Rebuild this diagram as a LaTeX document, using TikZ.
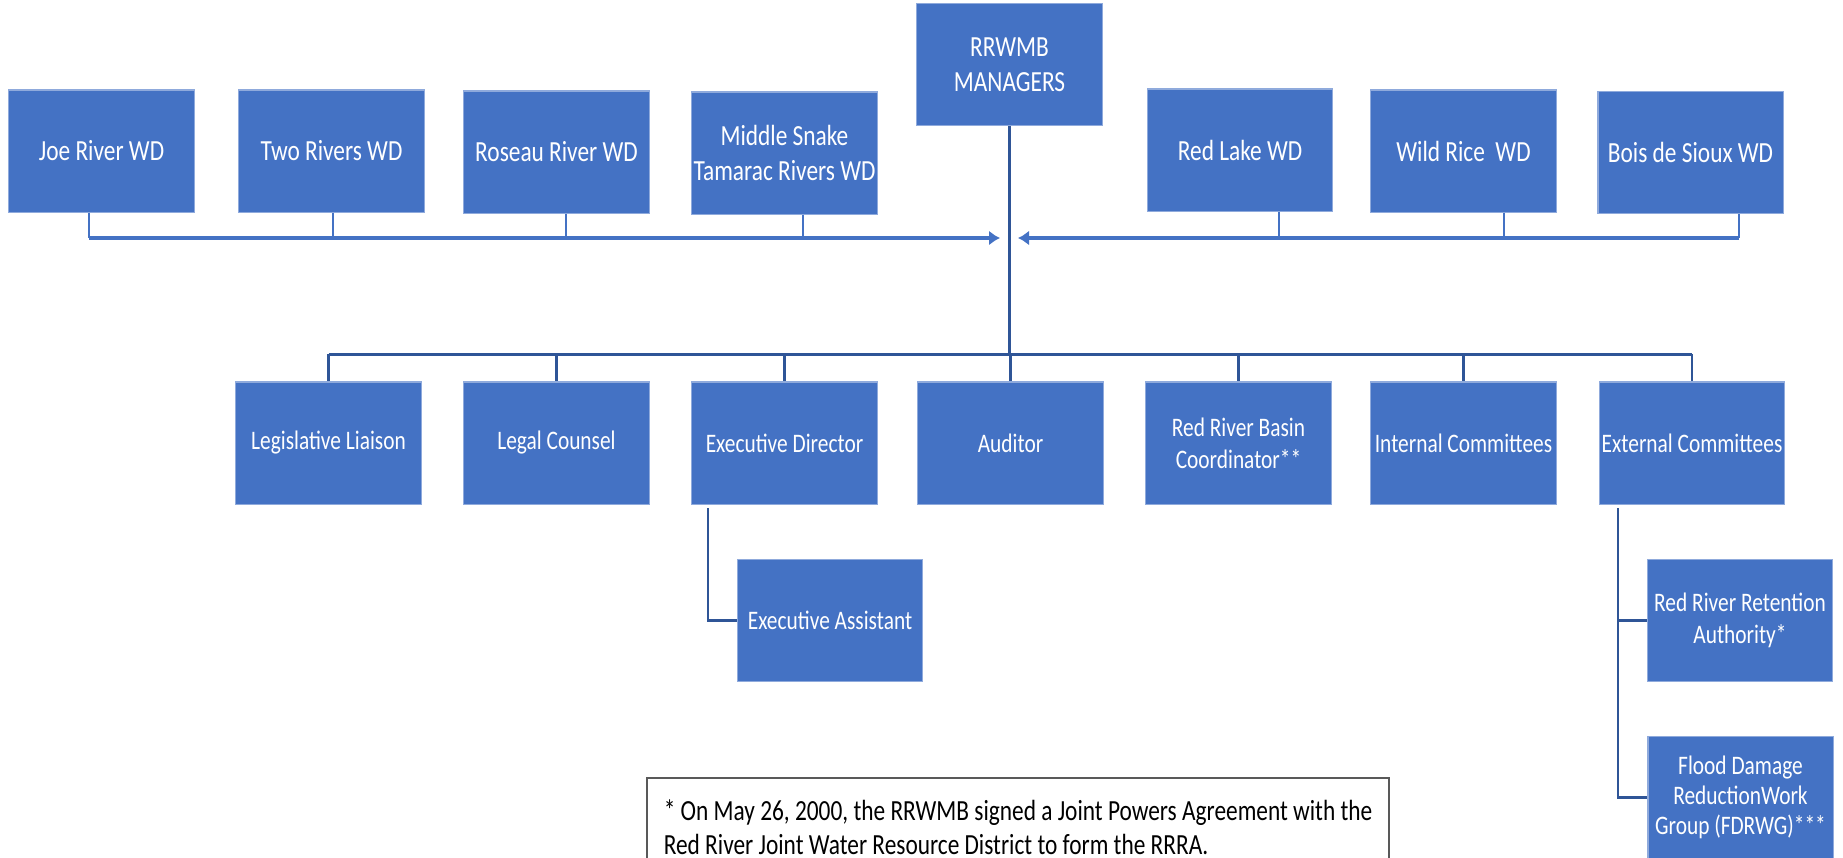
\documentclass[tikz,border=0pt]{standalone}
\usepackage{fontspec}
\setmainfont{Carlito}[FakeStretch=0.8]
\usepackage{tikz}
\usetikzlibrary{arrows.meta}
\definecolor{wdblue}{HTML}{4472C4}
\definecolor{wdedge}{HTML}{8FAADC}
\definecolor{linkblue}{HTML}{2F5597}
\definecolor{notegray}{HTML}{595959}
\tikzset{
>={Latex[length=0.11cm,width=0.15cm]}, % filled heads on the two feeder lines
unit/.style={draw=wdedge, line width=0.3pt, fill=wdblue, text=white, minimum width=1.85cm, minimum height=1.22cm, inner sep=0pt, align=center},
topunit/.style={unit, font=\fontsize{8.3pt}{10pt}\selectfont}, % districts and managers
lowunit/.style={unit, font=\fontsize{7.6pt}{9.1pt}\selectfont}, % staff and committees
feed/.style={draw=wdblue, line width=0.012cm},
bus/.style={draw=wdblue, line width=0.035cm},
trunk/.style={draw=linkblue, line width=0.03cm},
branch/.style={draw=linkblue, line width=0.025cm},
note/.style={draw=notegray, line width=0.02cm, minimum width=7.42cm, minimum height=0.98cm, inner sep=0pt, align=left, font=\fontsize{8.3pt}{9.7pt}\selectfont},
}

\begin{document}
\begin{tikzpicture}[x=0.01cm, y=-0.01cm]
  \clip (0,0) rectangle (1843,857);
  % watershed districts
  \node[topunit] (joe) at (101.5,151) {Joe River WD};
  \node[topunit] (two) at (331.5,151) {Two Rivers WD};
  \node[topunit] (roseau) at (556.5,152) {Roseau River WD};
  \node[topunit] (snake) at (784.5,153) {Middle Snake\\Tamarac Rivers WD};
  \node[topunit] (mgr) at (1009.5,64.5) {RRWMB\\MANAGERS};
  \node[topunit] (redlake) at (1240,150) {Red Lake WD};
  \node[topunit] (wildrice) at (1463.5,151) {Wild Rice\ \ WD};
  \node[topunit] (bois) at (1690.5,152.5) {Bois de Sioux WD};
  % staff and committees
  \node[lowunit] (leg) at (328.5,443) {Legislative Liaison};
  \node[lowunit] (legal) at (556.5,443) {Legal Counsel};
  \node[lowunit] (exec) at (784.5,443) {Executive Director};
  \node[lowunit] (aud) at (1010.5,443) {Auditor};
  \node[lowunit] (basin) at (1238.5,443) {Red River Basin\\Coordinator**};
  \node[lowunit] (internal) at (1463.5,443) {Internal Committees};
  \node[lowunit] (ext) at (1692,443) {External Committees};
  \node[lowunit] (assist) at (830,620.5) {Executive Assistant};
  \node[lowunit] (rrra) at (1740,620.5) {Red River Retention\\Authority*};
  \node[lowunit, font=\fontsize{7.6pt}{8.5pt}\selectfont] (fdr) at (1740.5,797.5) {Flood Damage\\ReductionWork\\Group (FDRWG)***};
  \node[note] (fn) at (1018,827) {* On May 26, 2000, the RRWMB signed a Joint Powers Agreement with the\\Red River Joint Water Resource District to form the RRRA.};

  \coordinate (jb) at (89,238);
  \coordinate (tb) at (333,238);
  \coordinate (rb) at (566,238);
  \coordinate (sb) at (803,238);
  \coordinate (lhead) at (1000,238);
  \coordinate (kb) at (1279,238);
  \coordinate (wb) at (1504,238);
  \coordinate (bb) at (1739,238);
  \coordinate (rhead) at (1018,238);
  \coordinate (hub) at (1009.5,354);
  \coordinate (ea) at (708,508);
  \coordinate (xa) at (1618,508);

  \draw[feed] (jb |- joe.south) -- (jb);
  \draw[feed] (tb |- two.south) -- (tb);
  \draw[feed] (rb |- roseau.south) -- (rb);
  \draw[feed] (sb |- snake.south) -- (sb);
  \draw[feed] (kb |- redlake.south) -- (kb);
  \draw[feed] (wb |- wildrice.south) -- (wb);
  \draw[feed] (bb |- bois.south) -- (bb);
  \draw[bus, ->] (jb) -- (lhead);
  \draw[bus, ->] (bb) -- (rhead);

  \draw[trunk] (mgr.south) -- (hub);
  \draw[trunk] (leg.north |- hub) -- (ext.north |- hub);
  \draw[branch] (leg.north |- hub) -- (leg.north);
  \draw[branch] (legal.north |- hub) -- (legal.north);
  \draw[branch] (exec.north |- hub) -- (exec.north);
  \draw[branch] (aud.north |- hub) -- (aud.north);
  \draw[branch] (basin.north |- hub) -- (basin.north);
  \draw[branch] (internal.north |- hub) -- (internal.north);
  \draw[branch] (ext.north |- hub) -- (ext.north);

  \draw[branch] (ea) |- (assist.west);
  \draw[branch] (xa) |- (fdr.west);
  \draw[branch] (xa |- rrra.west) -- (rrra.west);
\end{tikzpicture}
\end{document}
